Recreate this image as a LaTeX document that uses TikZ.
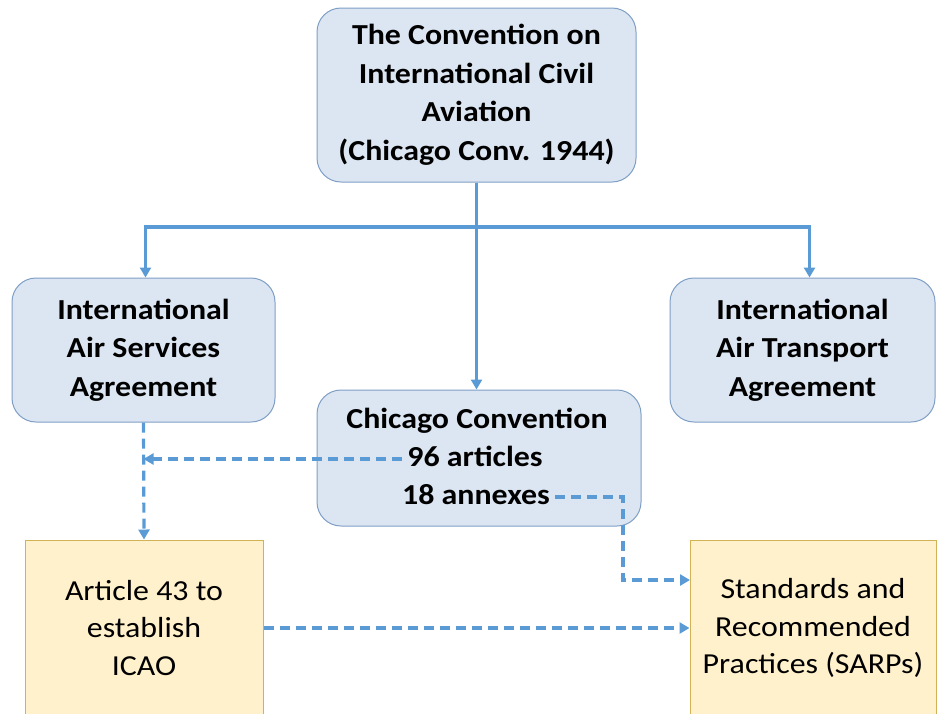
\documentclass[tikz,border=0pt]{standalone}
\usepackage{fontspec}
\setmainfont{Carlito}[FakeStretch=1.1]
\usetikzlibrary{arrows.meta}
\definecolor{boxfill}{HTML}{DCE6F2}
\definecolor{boxedge}{HTML}{7F9FC6}
\definecolor{notefill}{HTML}{FFF1CC}
\definecolor{noteedge}{HTML}{D2B257}
\definecolor{linkblue}{HTML}{5B9BD5}
\begin{document}
\begin{tikzpicture}[x=1pt,y=-1pt,
  bluebox/.style={draw=boxedge,fill=boxfill,line width=1pt,rounded corners=24pt,
    inner sep=0pt,align=center,font=\fontsize{29}{38.5}\selectfont\bfseries},
  notebox/.style={draw=noteedge,fill=notefill,line width=1pt,
    inner sep=0pt,align=center,font=\fontsize{29}{37.5}\selectfont},
  line/.style={text height=20pt,text depth=6pt,inner sep=5pt,font=\fontsize{29}{38}\selectfont\bfseries},
  tree/.style={draw=linkblue,line width=3.2pt,-{Triangle[length=10pt,width=11pt]}},
  dashto/.style={draw=linkblue,line width=3.2pt,dash pattern=on 10pt off 6pt,-{Triangle[length=10pt,width=11pt]}}]
  \clip (0,0) rectangle (937,713);
  \node (top) at (476.5,95) [bluebox,minimum width=319,minimum height=174]
    {The Convention on\\International Civil\\Aviation\\(Chicago Conv. 1944)};
  \node (isa) at (143.5,350) [bluebox,minimum width=263,minimum height=144]
    {International\\Air Services\\Agreement};
  \node (iata) at (802.5,350) [bluebox,minimum width=265,minimum height=144]
    {International\\Air Transport\\Agreement};
  \node (cc) at (479,458) [bluebox,minimum width=324,minimum height=136] {};
  \node (ccName) at (477,421) [line] {Chicago Convention};
  \node (ccArt) at (475,459) [line] {96 articles};
  \node (ccAnx) at (476,497) [line] {18 annexes};
  \node (art) at (144,628) [notebox,minimum width=238,minimum height=176]
    {Article 43 to\\establish\\ICAO};
  \node (sarp) at (813,628) [notebox,minimum width=246,minimum height=176]
    {Standards and\\Recommended\\Practices (SARPs)};
  \coordinate (hub) at (476.5,227) ;
  \coordinate (annexTurn) at (623,580) ;
  \coordinate (sarpIn) at (690,580) ;
  % solid tree
  \draw[tree] (top.south) -- (top.south |- cc.north);
  \draw[tree] (hub) -| ([xshift=2]isa.north);
  \draw[tree] (hub) -| ([xshift=7]iata.north);
  % dashed links
  \draw[dashto] (isa.south) -- (art.north);
  \draw[dashto] (ccArt.west) -- (ccArt.west -| isa.south);
  \draw[dashto] (ccAnx.east) -| (annexTurn) -- (sarpIn);
  \draw[dashto] (art.east) -- (art.east -| sarp.west);
\end{tikzpicture}
\end{document}
